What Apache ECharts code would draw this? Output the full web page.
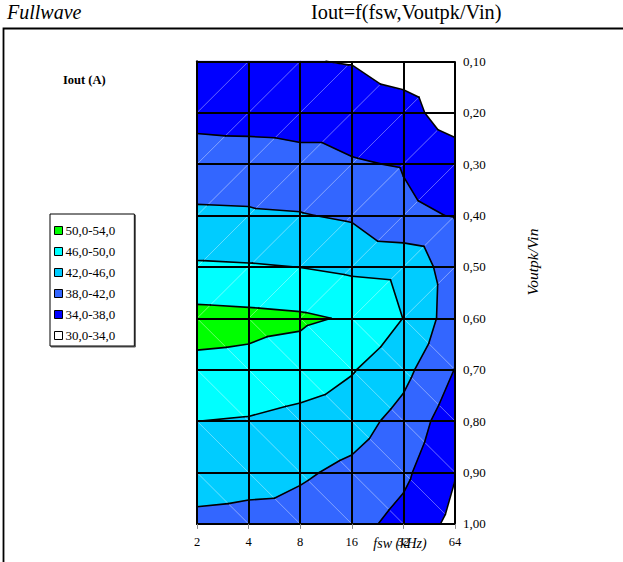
<!DOCTYPE html>
<html>
<head>
<meta charset="utf-8">
<script src="https://cdn.jsdelivr.net/npm/echarts@6/dist/echarts.min.js"></script>
<style>
html,body{margin:0;padding:0;background:#fff;}
#chart{width:623px;height:562px;}
</style>
</head>
<body>
<div id="chart"></div>
<script>
// ---- data ----
const fswLabels = ['2', '4', '8', '16', '32', '64'];          // fsw (kHz) categories
const ratioValues = [0.10, 0.20, 0.30, 0.40, 0.50, 0.60, 0.70, 0.80, 0.90, 1.00]; // Voutpk/Vin

// Iout (A) for each Voutpk/Vin row, across fsw = 2,4,8,16,32,64 kHz
const iout_010 = [35.0, 34.8, 34.15, 33.85, 32.4, 31.0];
const iout_020 = [36.5, 36.2, 36.0, 36.0, 35.3, 32.15];
const iout_030 = [40.2, 40.1, 39.45, 38.35, 37.75, 36.0];
const iout_040 = [42.5, 42.4, 42.2, 41.5, 38.8, 37.8];
const iout_050 = [46.5, 46.3, 45.95, 45.2, 44.8, 40.0];
const iout_060 = [51.3, 51.0, 50.6, 49.6, 45.95, 39.8];
const iout_070 = [49.2, 49.0, 48.2, 46.3, 43.15, 37.9];
const iout_080 = [46.02, 45.7, 44.8, 43.65, 40.65, 35.65];
const iout_090 = [44.0, 43.5, 42.5, 41.15, 38.8, 34.2];
const iout_100 = [41.0, 40.7, 40.5, 39.25, 36.8, 32.9];

const bandLabels = ['50,0-54,0', '46,0-50,0', '42,0-46,0', '38,0-42,0', '34,0-38,0', '30,0-34,0'];
const bandLow  = [50, 46, 42, 38, 34, 30];
const bandHigh = [54, 50, 46, 42, 38, 34];
const bandColors = ['#00FF00', '#00FFFF', '#00CCFF', '#3366FF', '#0000FF', '#FFFFFF'];
const contourLevels = [34, 38, 42, 46, 50];

// ---- build triangulated mesh from the grid ----
const grid = [iout_010, iout_020, iout_030, iout_040, iout_050, iout_060, iout_070, iout_080, iout_090, iout_100];
const tris = [];
for (let j = 0; j < ratioValues.length - 1; j++) {
  for (let i = 0; i < fswLabels.length - 1; i++) {
    const TL = [i, j], TR = [i + 1, j], BL = [i, j + 1], BR = [i + 1, j + 1];
    const v = p => grid[p[1]][p[0]];
    if (Math.abs(v(BL) - v(TR)) >= Math.abs(v(TL) - v(BR))) {
      tris.push({ci: i, cj: j, nodes: [TL, TR, BL], diag: [BL, TR]});
      tris.push({ci: i, cj: j, nodes: [TR, BR, BL], diag: null});
    } else {
      tris.push({ci: i, cj: j, nodes: [TL, TR, BR], diag: [TL, BR]});
      tris.push({ci: i, cj: j, nodes: [TL, BR, BL], diag: null});
    }
  }
}
const triData = tris.map((t, k) => [t.ci, ratioValues[t.cj], k]);

function nodePts(api, t) {
  return t.nodes.map(n => {
    const p = api.coord([n[0], ratioValues[n[1]]]);
    return {x: p[0], y: p[1], v: grid[n[1]][n[0]]};
  });
}
function clip(poly, level, keepAbove) {
  const out = [];
  for (let k = 0; k < poly.length; k++) {
    const a = poly[k], b = poly[(k + 1) % poly.length];
    const ina = keepAbove ? a.v >= level : a.v <= level;
    const inb = keepAbove ? b.v >= level : b.v <= level;
    if (ina) out.push(a);
    if (ina !== inb) {
      const t = (level - a.v) / (b.v - a.v);
      out.push({x: a.x + t * (b.x - a.x), y: a.y + t * (b.y - a.y), v: level});
    }
  }
  return out;
}

function bandSeries(b) {
  return {
    type: 'custom',
    name: bandLabels[b],
    coordinateSystem: 'cartesian2d',
    silent: true,
    z: 2,
    itemStyle: {color: bandColors[b], borderColor: '#000', borderWidth: 1},
    encode: {x: 0, y: 1},
    data: triData,
    renderItem: function (params, api) {
      const t = tris[api.value(2)];
      let poly = nodePts(api, t);
      poly = clip(poly, bandLow[b], true);
      if (poly.length) poly = clip(poly, bandHigh[b], false);
      if (poly.length < 3) return {type: 'group', children: []};
      return {
        type: 'polygon',
        shape: {points: poly.map(p => [p.x, p.y])},
        style: {fill: bandColors[b], stroke: bandColors[b], lineWidth: 0.6}
      };
    }
  };
}

const lineSeries = {
  type: 'custom',
  coordinateSystem: 'cartesian2d',
  silent: true,
  z: 3,
  encode: {x: 0, y: 1},
  data: triData,
  renderItem: function (params, api) {
    const t = tris[api.value(2)];
    const pts = nodePts(api, t);
    const children = [];
    if (t.diag) {
      const a = api.coord([t.diag[0][0], ratioValues[t.diag[0][1]]]);
      const c = api.coord([t.diag[1][0], ratioValues[t.diag[1][1]]]);
      children.push({type: 'line', shape: {x1: a[0], y1: a[1], x2: c[0], y2: c[1]},
        style: {stroke: 'rgba(255,255,255,0.45)', lineWidth: 0.8}});
    }
    contourLevels.forEach(L => {
      const cross = [];
      for (let k = 0; k < 3; k++) {
        const a = pts[k], b = pts[(k + 1) % 3];
        if ((a.v - L) * (b.v - L) < 0) {
          const s = (L - a.v) / (b.v - a.v);
          cross.push([a.x + s * (b.x - a.x), a.y + s * (b.y - a.y)]);
        }
      }
      if (cross.length === 2) {
        children.push({type: 'line', shape: {x1: cross[0][0], y1: cross[0][1], x2: cross[1][0], y2: cross[1][1]},
          style: {stroke: '#000', lineWidth: 1.6, lineCap: 'round'}});
      }
    });
    return {type: 'group', children: children};
  }
};

const chart = echarts.init(document.getElementById('chart'), null, {renderer: 'svg'});
const serif = 'Liberation Serif';
chart.setOption({
  animation: false,
  backgroundColor: '#fff',
  title: [
    {text: 'Fullwave', left: 7, top: 2, padding: 0,
      textStyle: {fontFamily: serif, fontStyle: 'italic', fontWeight: 'normal', fontSize: 20, color: '#000'}},
    {text: 'Iout=f(fsw,Voutpk/Vin)', left: 311, top: 2, padding: 0,
      textStyle: {fontFamily: serif, fontWeight: 'normal', fontSize: 20.3, color: '#000'}}
  ],
  legend: {
    orient: 'vertical',
    left: 50, top: 214,
    padding: [9, 19, 3, 4],
    itemGap: 6,
    itemWidth: 8, itemHeight: 8,
    icon: 'rect',
    selectedMode: false,
    borderColor: '#000', borderWidth: 1,
    backgroundColor: '#fff',
    shadowColor: '#555', shadowOffsetX: 1, shadowOffsetY: 1, shadowBlur: 0,
    itemStyle: {borderColor: '#000', borderWidth: 1},
    textStyle: {fontFamily: serif, fontSize: 13, color: '#000', lineHeight: 15, padding: [0, 0, 0, -2]},
    data: bandLabels
  },
  grid: {left: 197, right: 168, top: 61.3, bottom: 38.1, show: false},
  xAxis: {
    type: 'value', min: 0, max: 5, interval: 1, z: 5,
    axisLine: {show: true, lineStyle: {color: '#000', width: 2}},
    axisTick: {show: true, length: 5, lineStyle: {color: '#888', width: 1}},
    axisLabel: {formatter: v => fswLabels[v], fontFamily: serif, fontSize: 12.5, color: '#000', margin: 12},
    splitLine: {show: true, lineStyle: {color: '#000', width: 2}}
  },
  yAxis: {
    type: 'value', min: 0.1, max: 1.0, interval: 0.1, inverse: true, position: 'right', z: 5,
    axisLine: {show: true, lineStyle: {color: '#000', width: 2}},
    axisTick: {show: true, length: 6, lineStyle: {color: '#000', width: 1}},
    axisLabel: {formatter: v => v.toFixed(2).replace('.', ','), fontFamily: serif, fontSize: 13, color: '#000', margin: 8},
    splitLine: {show: true, lineStyle: {color: '#000', width: 2}}
  },
  graphic: [
    {type: 'rect', z: 0, silent: true, shape: {x: 3.5, y: 28.5, width: 640, height: 600},
      style: {fill: 'none', stroke: '#000', lineWidth: 1.8}},
    {type: 'text', left: 63, top: 73, silent: true,
      style: {text: 'Iout (A)', fontFamily: serif, fontWeight: 'bold', fontSize: 12.5, fill: '#000'}},
    {type: 'text', x: 532, y: 262, rotation: Math.PI / 2, silent: true,
      style: {text: 'Voutpk/Vin', fontFamily: serif, fontStyle: 'italic', fontSize: 15.5, fill: '#000', align: 'center', verticalAlign: 'middle'}},
    {type: 'text', x: 400, y: 543, silent: true,
      style: {text: 'fsw (kHz)', fontFamily: serif, fontStyle: 'italic', fontSize: 14, fill: '#000', align: 'center', verticalAlign: 'middle'}}
  ],
  series: [0, 1, 2, 3, 4, 5].map(bandSeries).concat([lineSeries])
});
</script>
</body>
</html>
